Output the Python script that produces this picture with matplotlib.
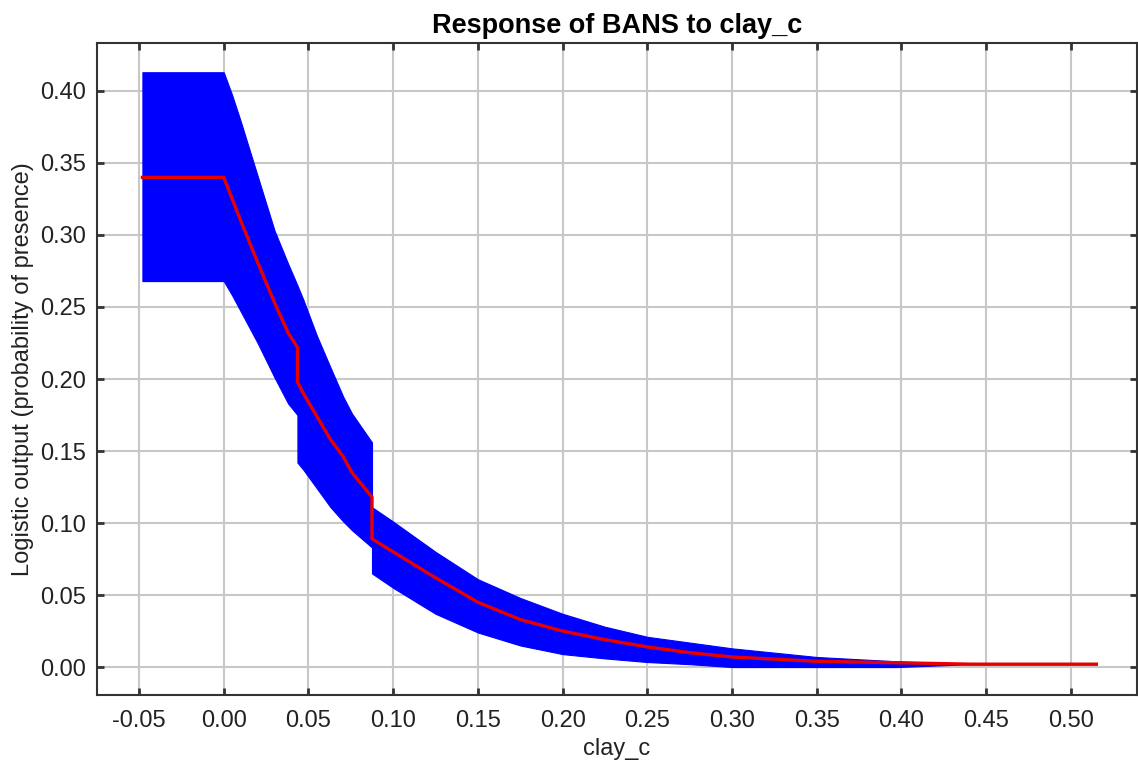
import matplotlib
matplotlib.use("Agg")
import matplotlib.pyplot as plt
import numpy as np

plt.rcParams['font.family'] = ['Liberation Sans', 'DejaVu Sans']

# clay_c sample points (duplicates mark the steps in the response)
clay_x = [-0.048, 0.000, 0.005, 0.010, 0.020, 0.030, 0.038, 0.0435, 0.0435, 0.047, 0.055, 0.063,
          0.0706, 0.0757, 0.0875, 0.0875, 0.100, 0.125, 0.150, 0.175, 0.200, 0.225,
          0.250, 0.275, 0.300, 0.350, 0.397, 0.441, 0.480, 0.515]
mean_resp = [0.340, 0.340, 0.325, 0.310, 0.281, 0.253, 0.232, 0.222, 0.198, 0.190, 0.174, 0.158,
             0.146, 0.135, 0.118, 0.089, 0.080, 0.062, 0.045, 0.033, 0.025, 0.019,
             0.014, 0.010, 0.007, 0.004, 0.003, 0.002, 0.002, 0.002]
upper_resp = [0.413, 0.413, 0.397, 0.379, 0.341, 0.303, 0.280, 0.265, 0.265, 0.255, 0.230, 0.208,
              0.1875, 0.176, 0.156, 0.111, 0.101, 0.080, 0.061, 0.048, 0.037, 0.028,
              0.021, 0.017, 0.013, 0.007, 0.004, 0.002, 0.002, 0.002]
lower_resp = [0.268, 0.268, 0.258, 0.247, 0.225, 0.201, 0.183, 0.175, 0.142, 0.137, 0.124, 0.111,
              0.101, 0.095, 0.083, 0.065, 0.055, 0.037, 0.024, 0.015, 0.009, 0.006,
              0.0035, 0.002, 0.000, 0.000, 0.000, 0.002, 0.002, 0.002]

x_ticks = [-0.05, 0.00, 0.05, 0.10, 0.15, 0.20, 0.25, 0.30, 0.35, 0.40, 0.45, 0.50]
y_ticks = [0.00, 0.05, 0.10, 0.15, 0.20, 0.25, 0.30, 0.35, 0.40]

fig = plt.figure(figsize=(11.38, 7.76), dpi=100)
ax = fig.add_axes([97 / 1138, 1 - 695 / 776, (1137 - 97) / 1138, (695 - 43) / 776])

ax.fill_between(clay_x, lower_resp, upper_resp, color='#0000FF', linewidth=0.8,
                edgecolor='#0000FF', zorder=2)
ax.plot(clay_x, mean_resp, color='#E80000', linewidth=2.4, zorder=3)

ax.set_xlim(-0.0748, 0.539)
ax.set_ylim(-0.0194, 0.4333)
ax.set_xticks(x_ticks)
ax.set_xticklabels([f"{v:.2f}" for v in x_ticks])
ax.set_yticks(y_ticks)
ax.set_yticklabels([f"{v:.2f}" for v in y_ticks])

ax.grid(True, color='#c8c8c8', linewidth=1.5, zorder=1)
ax.set_axisbelow(True)
ax.tick_params(direction='in', length=5, width=2, color='#333333',
               top=True, right=True, labelsize=17, labelcolor='#222222')
ax.tick_params(axis='x', pad=11)
ax.tick_params(axis='y', pad=8)
for s in ax.spines.values():
    s.set_color('#333333')
    s.set_linewidth(1.5)

ax.set_title('Response of BANS to clay_c', fontsize=19.5, fontweight='bold', pad=7)
ax.set_xlabel('clay_c', fontsize=17, color='#222222', labelpad=4)
ax.set_ylabel('Logistic output (probability of presence)', fontsize=17,
              color='#222222', labelpad=4)

fig.savefig('out.png', dpi=100)
